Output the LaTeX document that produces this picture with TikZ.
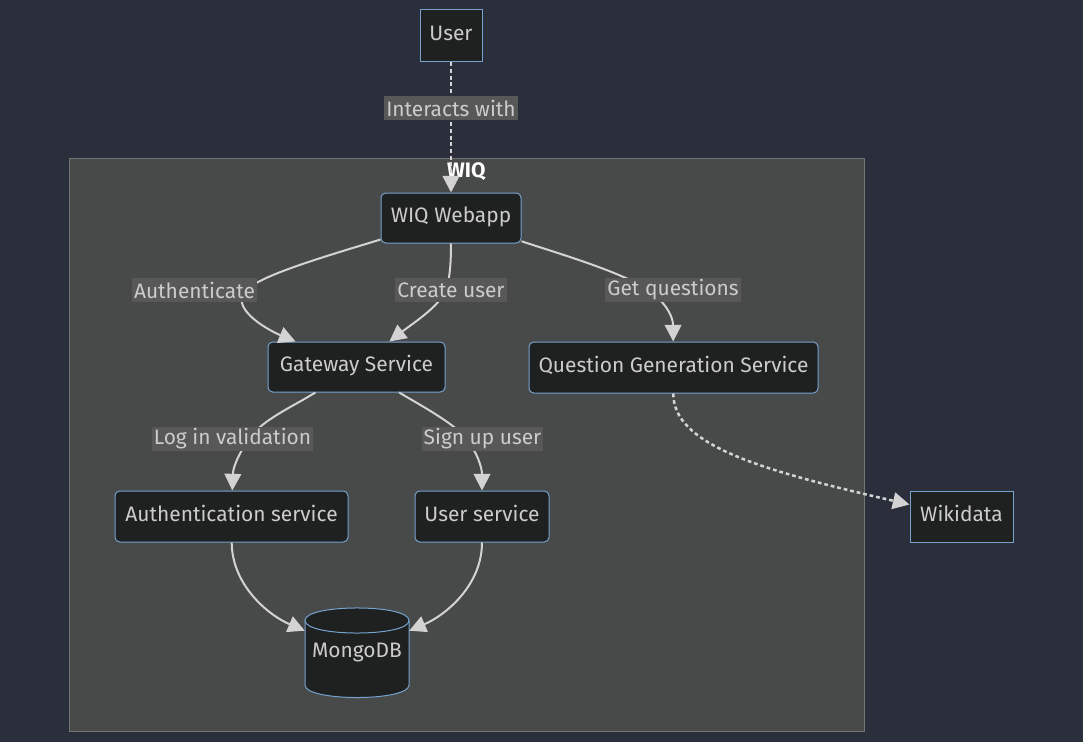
\documentclass[tikz,border=0pt]{standalone}
\usepackage{fontspec}
\setmainfont{Fira Sans}
\usetikzlibrary{arrows.meta}
\definecolor{bgc}{HTML}{2A2F3B}
\definecolor{clfill}{HTML}{484949}
\definecolor{clborder}{HTML}{737575}
\definecolor{nfill}{HTML}{1F2020}
\definecolor{nborder}{HTML}{76A3CF}
\definecolor{ntext}{HTML}{CCCCCC}
\definecolor{lblbg}{HTML}{585858}
\definecolor{edgec}{HTML}{D3D3D3}
\tikzset{
  fnt/.style={font=\fontsize{15.7}{19}\selectfont},
  txt/.style={fnt, text height=11pt, text depth=4pt},
  box/.style={draw=nborder, fill=nfill, line width=0.75pt, text=ntext, inner sep=0pt, txt},
  rbox/.style={box, rounded corners=3.5pt},
  lbl/.style={fill=lblbg, text=ntext, inner xsep=1.5pt, inner ysep=0pt, minimum height=18pt, fnt},
  edge/.style={draw=edgec, line width=1.5pt, -{Triangle[length=12.5pt,width=12.5pt]}},
  dotedge/.style={edge, line width=1.9pt, dash pattern=on 2.8pt off 2.2pt},
}
\begin{document}
\begin{tikzpicture}[x=0.75pt, y=-0.75pt]
\useasboundingbox (0,0) rectangle (1083,742);
\fill[bgc] (0,0) rectangle (1083,742);

% cluster
\node[draw=clborder, fill=clfill, line width=0.75pt, minimum width=596.25pt, minimum height=429pt, inner sep=0pt] (wiq) at (466.5,445) {};
\node[text=white, fnt, inner sep=0pt] (wiqtitle) at (466.5,172) {\textbf{WIQ}};

% nodes
\node[box, minimum width=46.5pt, minimum height=39pt] (user) at (451,36) {User};
\node[rbox, minimum width=105pt, minimum height=37.5pt] (web) at (451,218) {WIQ Webapp};
\node[rbox, minimum width=132.75pt, minimum height=37.5pt] (gw) at (356.5,367) {Gateway Service};
\node[rbox, minimum width=216.75pt, minimum height=38.25pt] (qgs) at (673.5,367.5) {Question Generation Service};
\node[rbox, minimum width=174.75pt, minimum height=38.25pt] (auth) at (231.5,516.5) {Authentication service};
\node[rbox, minimum width=100.5pt, minimum height=38.25pt] (us) at (482,516.5) {User service};
\node[box, minimum width=77.25pt, minimum height=38.25pt] (wiki) at (961.5,516.5) {Wikidata};

% MongoDB cylinder
\filldraw[draw=nborder, fill=nfill, line width=0.75pt]
  (305,620.5) -- (305,685) .. controls (305,701.7) and (409,701.7) .. (409,685)
  -- (409,620.5) .. controls (409,603.8) and (305,603.8) .. (305,620.5) -- cycle;
\draw[draw=nborder, line width=0.75pt] (305,620.5) .. controls (305,637.2) and (409,637.2) .. (409,620.5);
\node[text=ntext, inner sep=0pt, minimum width=78pt, minimum height=66.75pt, txt] (mongo) at (357,653) {MongoDB};

% edge mid points
\coordinate (m1) at (244,292);
\coordinate (m2) at (446,290);
\coordinate (m3) at (650,291);
\coordinate (m4) at (250,438);
\coordinate (m5) at (466,438);

% edges
\draw[dotedge] (user) -- (web);
\draw[edge] (web) .. controls (320,258) and (258,276) .. (m1) .. controls (232,310) and (268,330) .. (gw);
\draw[edge] (web) .. controls (451,262) and (450,278) .. (m2) .. controls (440,306) and (412,324) .. (gw);
\draw[edge] (web) .. controls (560,254) and (622,272) .. (m3) .. controls (668,305) and (673,318) .. (qgs);
\draw[edge] (gw) .. controls (292,407) and (262,420) .. (m4) .. controls (238,454) and (233,468) .. (auth);
\draw[edge] (gw) .. controls (420,405) and (452,422) .. (m5) .. controls (478,454) and (482,468) .. (us);
\draw[edge] (auth) .. controls (232,585) and (268,615) .. (mongo);
\draw[edge] (us) .. controls (482,585) and (446,615) .. (mongo);
\draw[dotedge] (qgs) .. controls (673,445) and (760,470) .. (wiki);

% edge labels
\node[lbl] (l0) at (451,108) {Interacts with};
\node[lbl] (l1) at (194.5,290) {Authenticate};
\node[lbl] (l2) at (451,290) {Create user};
\node[lbl] (l3) at (673,290) {Get questions};
\node[lbl] (l4) at (232.5,438.5) {Log in validation};
\node[lbl] (l5) at (482.5,438.5) {Sign up user};
\end{tikzpicture}
\end{document}
